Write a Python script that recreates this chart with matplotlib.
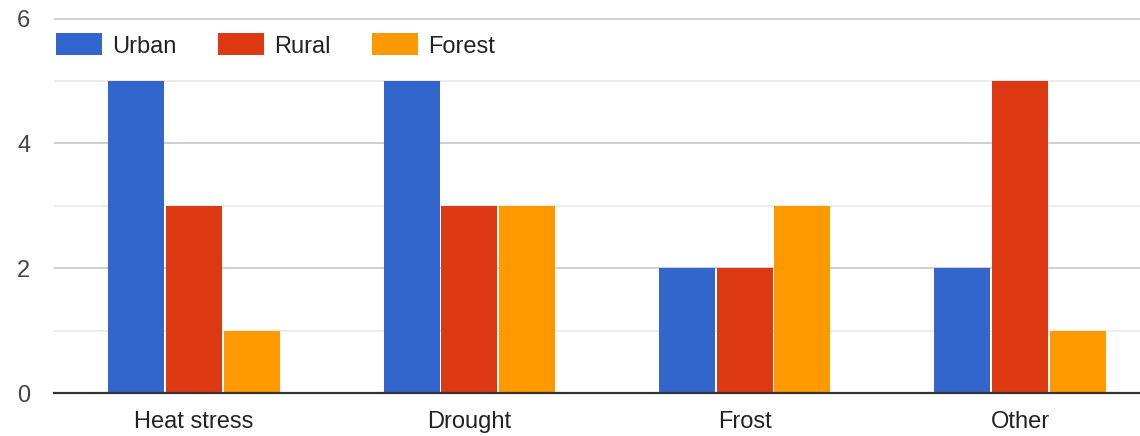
import matplotlib
matplotlib.use("Agg")
import matplotlib.pyplot as plt
from matplotlib.patches import Rectangle
import numpy as np

categories = ["Heat stress", "Drought", "Frost", "Other"]
series_names = ["Urban", "Rural", "Forest"]
urban = [5, 5, 2, 2]
rural = [3, 3, 2, 5]
forest = [1, 3, 3, 1]
colors = ["#3366cc", "#dc3912", "#ff9900"]

plt.rcParams['font.family'] = ['Arial', 'Liberation Sans', 'DejaVu Sans']

W, H = 1140, 436
fig = plt.figure(figsize=(W/100, H/100), dpi=100)
ax_left, ax_right, ax_top, ax_bottom = 54, 1140, 18.5, 393
ax = fig.add_axes([ax_left/W, 1-ax_bottom/H, (ax_right-ax_left)/W, (ax_bottom-ax_top)/H])

x = np.arange(len(categories))
step = 0.2096
bw = 0.2034
for i, (vals, name, c) in enumerate(zip([urban, rural, forest], series_names, colors)):
    ax.bar(x + (i-1)*step, vals, width=bw, color=c, label=name, zorder=3)

scale = (1020-194)/3.0
xmin = -(194-ax_left)/scale
ax.set_xlim(xmin, xmin + (ax_right-ax_left)/scale)
ax.set_ylim(0, 6)
ax.set_yticks([0, 2, 4, 6])
ax.set_yticks([1, 3, 5], minor=True)
ax.grid(axis='y', which='major', color='#cccccc', linewidth=1.3, zorder=0)
ax.grid(axis='y', which='minor', color='#ebebeb', linewidth=1.3, zorder=0)
ax.set_xticks(x)
ax.set_xticklabels(categories)
ax.tick_params(axis='both', length=0, labelsize=17)
ax.tick_params(axis='x', colors='#222222', pad=13)
ax.tick_params(axis='y', colors='#444444', pad=17)
ax.tick_params(axis='y', which='minor', length=0)
for s in ['top', 'right', 'left']:
    ax.spines[s].set_visible(False)
ax.spines['bottom'].set_color('#333333')
ax.spines['bottom'].set_linewidth(1.6)
ax.spines['bottom'].set_zorder(4)

# legend drawn in figure pixel coordinates
box_x = [56, 218, 372]
for bx, name, c in zip(box_x, series_names, colors):
    fig.patches.append(Rectangle((bx/W, 1-55/H), 46/W, 22/H, transform=fig.transFigure,
                                 facecolor=c, edgecolor='none'))
    fig.text((bx+56)/W, 1-44/H, name, fontsize=17, color='#222222',
             ha='left', va='center_baseline')

fig.savefig("out.png", dpi=100)
